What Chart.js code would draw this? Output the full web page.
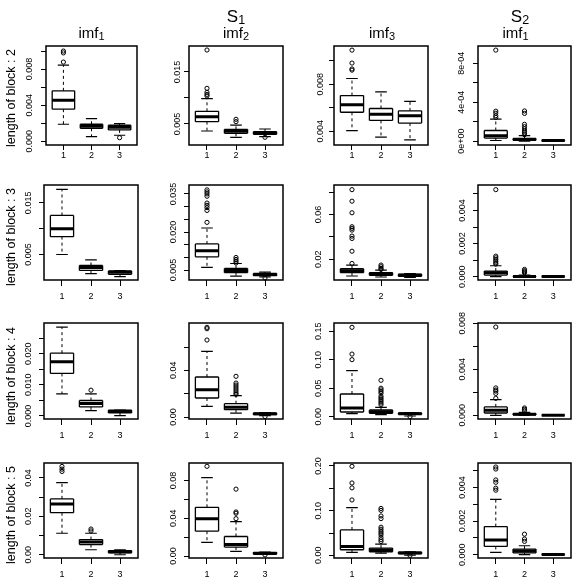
<!DOCTYPE html>
<html>
<head>
<meta charset="utf-8">
<script src="https://cdn.jsdelivr.net/npm/chart.js@4.4.1/dist/chart.umd.min.js"></script>
<style>
  html, body { margin: 0; padding: 0; background: #fff; overflow: hidden; }
  #wrap { position: relative; width: 572px; height: 581px; overflow: hidden; background: #fff;
          font-family: "Liberation Sans", Arial, Helvetica, sans-serif; color: #000; }
  canvas { position: absolute; }
  .t { position: absolute; text-align: center; white-space: nowrap; }
  .t span { position: relative; }
</style>
</head>
<body>
<div id="wrap"></div>
<script>
// ---------------- DATA ----------------
const categories = [1, 2, 3];
const rowTitles = ['length of block : 2', 'length of block : 3', 'length of block : 4', 'length of block : 5'];
const colTitles = ['imf', 'imf', 'imf', 'imf'];
const colTitleSubs = ['1', '2', '3', '1'];
const groupTitles = ['S', 'S'];
const groupTitleSubs = ['1', '2'];

// box stats per panel: [lowerWhisker, Q1, median, Q3, upperWhisker] for groups 1,2,3
const block2Stats = [
  [[0.00189, 0.00356, 0.00456, 0.00559, 0.00844], [0.00052, 0.00144, 0.00167, 0.00189, 0.00252], [0.00067, 0.00126, 0.00156, 0.00178, 0.00196]],
  [[0.00365, 0.00545, 0.00641, 0.00744, 0.00987], [0.00244, 0.0032, 0.00359, 0.00397, 0.0048], [0.00256, 0.00301, 0.00333, 0.00353, 0.00404]],
  [[0.00406, 0.00562, 0.00626, 0.00704, 0.00849], [0.00351, 0.00493, 0.00545, 0.00594, 0.00736], [0.00328, 0.0047, 0.00533, 0.00574, 0.00655]],
  [[0.000007, 0.000032, 0.000057, 0.00011, 0.000227], [0, 0.00001, 0.000018, 0.000028, 0.000057], [0.000001, 0.000004, 0.000007, 0.00001, 0.000013]]
];
const block2Out = [
  [[0.00878, 0.0098, 0.0100], [], [0.0004]],
  [[0.0104, 0.0107, 0.01109, 0.01186, 0.01923], [0.00545, 0.0059], [0.00244]],
  [[0.0092, 0.0093, 0.0098, 0.0109], [], []],
  [[0.000244, 0.000262, 0.000287, 0.000308, 0.000935], [0.000067, 0.000085, 0.000103, 0.000127, 0.000149, 0.000173, 0.000285, 0.00031], []]
];
const block2Ticks = [[0, 0.002, 0.004, 0.006, 0.008, 0.010], [0.005, 0.010, 0.015], [0.004, 0.006, 0.008, 0.010], [0, 0.0002, 0.0004, 0.0006, 0.0008]];
const block2TickLabels = [['0.000', '', '0.004', '', '0.008', ''], ['0.005', '', '0.015'], ['0.004', '', '0.008', ''], ['0e+00', '', '4e-04', '', '8e-04']];
const block2Range = [[-0.00041, 0.01056], [0.00096, 0.0200], [0.00284, 0.01125], [-0.000039, 0.000977]];

const block3Stats = [
  [[0.005, 0.00846, 0.0100, 0.01256, 0.01763], [0.00128, 0.00192, 0.0025, 0.00288, 0.00397], [0.0007, 0.00115, 0.00154, 0.0018, 0.0019]],
  [[0.00604, 0.01022, 0.01257, 0.0153, 0.02157], [0.00265, 0.00396, 0.00487, 0.00565, 0.0076], [0.0023, 0.0028, 0.0033, 0.0037, 0.00422]],
  [[0.00489, 0.00785, 0.00963, 0.0114, 0.01467], [0.004, 0.0055, 0.007, 0.0079, 0.0102], [0.0037, 0.0046, 0.0058, 0.0064, 0.007]],
  [[0, 0.0001, 0.00024, 0.00034, 0.00066], [0, 0.000005, 0.000015, 0.00004, 0.0001], [0, 0.000002, 0.000005, 0.00001, 0.00002]]
];
const block3Out = [
  [[], [], []],
  [[0.0238, 0.0285, 0.0296, 0.0305, 0.0314, 0.0341, 0.035, 0.0358, 0.0366], [0.0078, 0.0085, 0.0092, 0.00996], [0.0019]],
  [[0.0161, 0.0271, 0.0385, 0.0406, 0.046, 0.0476, 0.049, 0.0615, 0.0719, 0.0822], [0.0108, 0.0117, 0.0132, 0.0147], []],
  [[0.00076, 0.00084, 0.00094, 0.00104, 0.00114, 0.00124, 0.00526], [0.00024, 0.0003, 0.00036, 0.00044], []]
];
const block3Ticks = [[0.005, 0.010, 0.015], [0.005, 0.010, 0.015, 0.020, 0.025, 0.030, 0.035], [0.02, 0.04, 0.06, 0.08], [0, 0.001, 0.002, 0.003, 0.004, 0.005]];
const block3TickLabels = [['0.005', '', '0.015'], ['0.005', '', '', '0.020', '', '', '0.035'], ['0.02', '', '0.06', ''], ['0.000', '', '0.002', '', '0.004', '']];
const block3Range = [[0.00006, 0.01846], [0.00109, 0.03852], [0.00133, 0.08637], [-0.0002, 0.00554]];

const block4Stats = [
  [[0.0071, 0.01366, 0.01742, 0.0202, 0.0286], [0.00172, 0.0029, 0.00398, 0.00495, 0.0071], [0.0001, 0.00097, 0.0014, 0.00183, 0.0019]],
  [[0.0091, 0.0163, 0.0234, 0.0343, 0.0563], [0.0034, 0.0063, 0.0083, 0.0114, 0.0183], [0.0012, 0.002, 0.0029, 0.0034, 0.0037]],
  [[0.0053, 0.0082, 0.0152, 0.0398, 0.0808], [0.0035, 0.0059, 0.0088, 0.0117, 0.0164], [0.0012, 0.0041, 0.0053, 0.0064, 0.007]],
  [[0, 0.0002, 0.00044, 0.00073, 0.00137], [0, 0.00003, 0.00009, 0.00015, 0.00026], [0, 0.000002, 0.000005, 0.00001, 0.00002]]
];
const block4Out = [
  [[], [0.00828], []],
  [[0.066, 0.0757, 0.0769], [0.0194, 0.0206, 0.0223, 0.024, 0.0257, 0.0274, 0.0291, 0.0349], [0.0004]],
  [[0.1002, 0.110, 0.157], [0.021, 0.024, 0.027, 0.030, 0.0328, 0.0357, 0.041, 0.044, 0.047, 0.050, 0.0639], [0.0]],
  [[0.00148, 0.0019, 0.0021, 0.0022, 0.00238, 0.00767], [0.0004, 0.00052, 0.00064], []]
];
const block4Ticks = [[0, 0.005, 0.010, 0.015, 0.020, 0.025], [0, 0.02, 0.04, 0.06], [0, 0.05, 0.10, 0.15], [0, 0.002, 0.004, 0.006, 0.008]];
const block4TickLabels = [['0.000', '', '0.010', '', '0.020', ''], ['0.00', '', '0.04', ''], ['0.00', '0.05', '0.10', '0.15'], ['0.000', '', '0.004', '', '0.008']];
const block4Range = [[-0.001, 0.0299], [-0.0017, 0.0806], [-0.0041, 0.1646], [-0.00032, 0.00802]];

const block5Stats = [
  [[0.0112, 0.0219, 0.0264, 0.0291, 0.0376], [0.0026, 0.0053, 0.0067, 0.0079, 0.0112], [0, 0.001, 0.0016, 0.0021, 0.0026]],
  [[0.0144, 0.0263, 0.0396, 0.0516, 0.0832], [0.0049, 0.0095, 0.0123, 0.0207, 0.0365], [0.0018, 0.0021, 0.0028, 0.0039, 0.0042]],
  [[0.0067, 0.0126, 0.02, 0.057, 0.1067], [0.0052, 0.0081, 0.0119, 0.0163, 0.0252], [0.0007, 0.0037, 0.0052, 0.0074, 0.0081]],
  [[0.00014, 0.00049, 0.00087, 0.00167, 0.00329], [0, 0.0001, 0.00022, 0.00033, 0.00053], [0, 0.000005, 0.00001, 0.00002, 0.00003]]
];
const block5Out = [
  [[0.0434, 0.0446, 0.046], [0.0124, 0.0134], []],
  [[0.0951], [0.0396, 0.0453, 0.0467, 0.0709], [0.0012]],
  [[0.124, 0.151, 0.162, 0.1993], [0.031, 0.035, 0.04, 0.046, 0.05, 0.054, 0.0585, 0.063, 0.0822, 0.0881, 0.1007, 0.105], [0.0]],
  [[0.00384, 0.00396, 0.00431, 0.00445, 0.0051, 0.00522], [0.00079, 0.00093, 0.00122], []]
];
const block5Ticks = [[0, 0.01, 0.02, 0.03, 0.04], [0, 0.02, 0.04, 0.06, 0.08], [0, 0.05, 0.10, 0.15, 0.20], [0, 0.001, 0.002, 0.003, 0.004, 0.005]];
const block5TickLabels = [['0.00', '', '0.02', '', '0.04'], ['0.00', '', '0.04', '', '0.08'], ['0.00', '', '0.10', '', '0.20'], ['0.000', '', '0.002', '', '0.004', '']];
const block5Range = [[-0.0017, 0.0478], [-0.0021, 0.0986], [-0.0059, 0.2067], [-0.0002, 0.00546]];

// ---------------- LAYOUT ----------------
const FONT = '"Liberation Sans", Arial, Helvetica, sans-serif';
const rowY = [[46, 145], [185, 280], [323, 419], [463, 558]];
const colX = [[44, 138], [189, 283], [334, 428], [478, 571]];
const row1Col1X = [46, 137];
const xTickLen = [5, 6, 6, 6];
const xLabOff = [11, 17, 17, 17];
const yLabOff = [[16, 11, 13, 16], [15, 15, 15, 15], [15, 15, 15, 15], [15, 15, 15, 15]];
const rowLabelCY = [98, 237, 376, 515];
const colTitleCX = [91.5, 236, 382, 515.5];
const groupTitleCX = [236, 520];
const L = 40, T = 16, R = 6, B = 30;
const BOXW = 0.4, STAPLE = 0.2;

const blocks = [
  { stats: block2Stats, out: block2Out, ticks: block2Ticks, labels: block2TickLabels, range: block2Range },
  { stats: block3Stats, out: block3Out, ticks: block3Ticks, labels: block3TickLabels, range: block3Range },
  { stats: block4Stats, out: block4Out, ticks: block4Ticks, labels: block4TickLabels, range: block4Range },
  { stats: block5Stats, out: block5Out, ticks: block5Ticks, labels: block5TickLabels, range: block5Range }
];

const rframe = {
  id: 'rframe',
  afterDraw(chart, args, opts) {
    const { ctx, chartArea: a } = chart;
    ctx.save();
    ctx.strokeStyle = '#000';
    ctx.lineWidth = 1.5;
    ctx.strokeRect(a.left, a.top, a.right - a.left, a.bottom - a.top);
    ctx.fillStyle = '#000';
    ctx.font = '9px ' + FONT;
    ctx.textAlign = 'center';
    ctx.textBaseline = 'middle';
    const ys = chart.scales.y;
    opts.yTicks.forEach((v, i) => {
      const lab = opts.yLabels[i];
      if (!lab) return;
      const py = ys.getPixelForValue(v);
      ctx.save();
      ctx.translate(a.left - opts.yOff, py);
      ctx.rotate(-Math.PI / 2);
      ctx.fillText(lab, 0, 0);
      ctx.restore();
    });
    const xs = chart.scales.x;
    categories.forEach(c => ctx.fillText(String(c), xs.getPixelForValue(c), a.bottom + opts.xOff));
    ctx.restore();
  }
};

function segData(segs) {
  const d = [];
  segs.forEach(s => { d.push({ x: s[0], y: s[1] }, { x: s[2], y: s[3] }, { x: s[2], y: null }); });
  return d;
}
function lineDs(data, width, dash) {
  return { data, showLine: true, borderColor: '#000', borderWidth: width, borderDash: dash || [],
           pointRadius: 0, fill: false, spanGaps: false, clip: false, borderCapStyle: 'butt' };
}

const wrap = document.getElementById('wrap');

for (let r = 0; r < 4; r++) {
  const bl = blocks[r];
  for (let c = 0; c < 4; c++) {
    const [x0, x1] = (r === 0 && c === 0) ? row1Col1X : colX[c];
    const [y0, y1] = rowY[r];
    const st = bl.stats[c], out = bl.out[c];
    const whisk = [], staples = [], boxes = [], meds = [], pts = [];
    categories.forEach((x, i) => {
      const [lo, q1, md, q3, hi] = st[i];
      whisk.push([x, q3, x, hi], [x, q1, x, lo]);
      staples.push([x - STAPLE, hi, x + STAPLE, hi], [x - STAPLE, lo, x + STAPLE, lo]);
      boxes.push([x - BOXW, q1, x + BOXW, q1], [x + BOXW, q1, x + BOXW, q3], [x + BOXW, q3, x - BOXW, q3], [x - BOXW, q3, x - BOXW, q1]);
      meds.push([x - BOXW, md, x + BOXW, md]);
      out[i].forEach(v => pts.push({ x, y: v }));
    });
    const datasets = [
      lineDs(segData(whisk), 1, [3, 3]),
      lineDs(segData(staples), 1.2),
      lineDs(segData(boxes), 1.3),
      lineDs(segData(meds), 3),
      { data: pts, showLine: false, pointRadius: 2.1, pointBorderWidth: 1, pointBorderColor: '#000',
        pointBackgroundColor: 'rgba(0,0,0,0)', clip: false }
    ];
    const cv = document.createElement('canvas');
    const W = (x1 - x0) + L + R, H = (y1 - y0) + T + B;
    cv.width = W; cv.height = H;
    cv.style.left = (x0 - L) + 'px'; cv.style.top = (y0 - T) + 'px';
    cv.style.width = W + 'px'; cv.style.height = H + 'px';
    wrap.appendChild(cv);
    const yTicks = bl.ticks[c];
    const tl = xTickLen[r];
    new Chart(cv, {
      type: 'scatter',
      data: { datasets },
      options: {
        responsive: false, animation: false, devicePixelRatio: 1, events: [],
        layout: { padding: { left: 0, top: T, right: R, bottom: 0 } },
        plugins: { legend: { display: false }, tooltip: { enabled: false },
          rframe: { yTicks, yLabels: bl.labels[c], yOff: yLabOff[r][c], xOff: xLabOff[r] } },
        scales: {
          x: { type: 'linear', min: 0.38, max: 3.62,
               afterBuildTicks: s => { s.ticks = categories.map(v => ({ value: v })); },
               afterFit: s => { s.height = B; },
               ticks: { display: false },
               grid: { display: true, drawOnChartArea: false, drawTicks: true, tickLength: tl, color: '#000', lineWidth: 1 },
               border: { display: false } },
          y: { type: 'linear', min: bl.range[c][0], max: bl.range[c][1],
               afterBuildTicks: s => { s.ticks = yTicks.map(v => ({ value: v })); },
               afterFit: s => { s.width = L; },
               ticks: { display: false },
               grid: { display: true, drawOnChartArea: false, drawTicks: true, tickLength: 5, color: '#000', lineWidth: 1 },
               border: { display: false } }
        }
      },
      plugins: [rframe]
    });
  }
}

// ---------------- TEXT ----------------
function addText(html, cx, top, size, extra) {
  const d = document.createElement('div');
  d.className = 't';
  d.style.left = (cx - 80) + 'px';
  d.style.width = '160px';
  d.style.top = top + 'px';
  d.style.fontSize = size + 'px';
  d.style.lineHeight = size + 'px';
  if (extra) Object.assign(d.style, extra);
  d.innerHTML = html;
  wrap.appendChild(d);
  return d;
}
colTitles.forEach((t, i) => {
  addText(t + '<span style="font-size:11px;top:2px">' + colTitleSubs[i] + '</span>', colTitleCX[i], 24.6, 15);
});
groupTitles.forEach((t, i) => {
  addText(t + '<span style="font-size:12.5px;top:2px">' + groupTitleSubs[i] + '</span>', groupTitleCX[i], 7.6, 17);
});
rowTitles.forEach((t, i) => {
  addText(t, 10.5, rowLabelCY[i] - 7, 12.5, { lineHeight: '14px', transform: 'rotate(-90deg)', transformOrigin: '50% 50%' });
});
</script>
</body>
</html>
